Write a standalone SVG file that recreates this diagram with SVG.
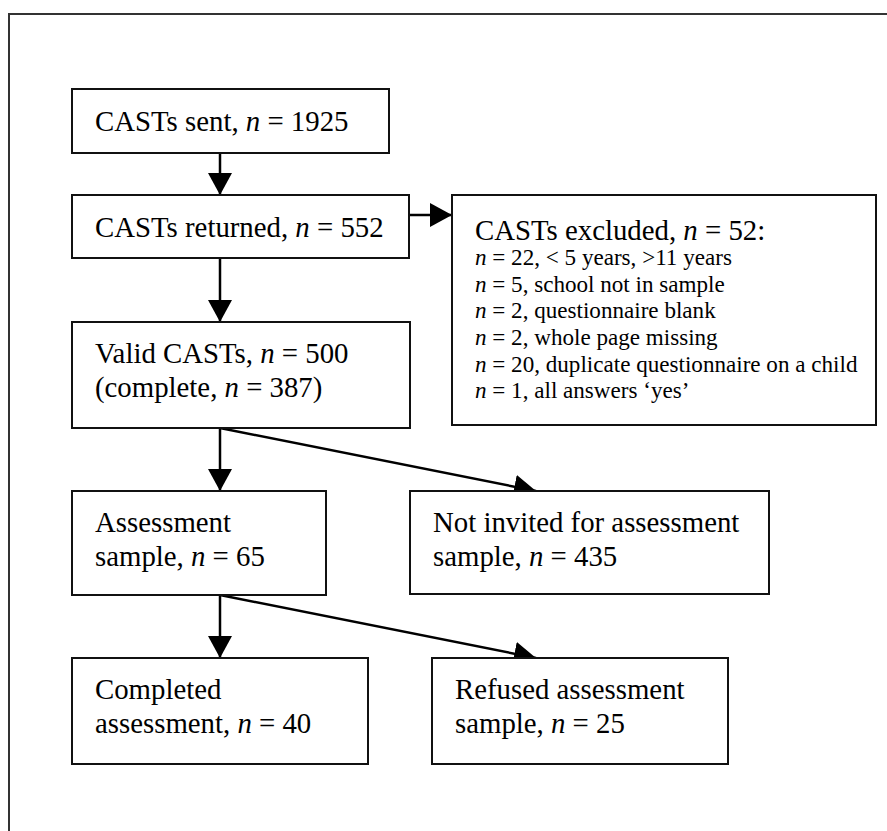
<svg xmlns="http://www.w3.org/2000/svg" width="887" height="831" viewBox="0 0 887 831">
<style>
.box{fill:#fff;stroke:#111;stroke-width:2}
.t{font-family:"Liberation Serif","Times New Roman",serif;font-size:28.8px;fill:#000}
.s{font-family:"Liberation Serif","Times New Roman",serif;font-size:23.1px;fill:#000}
.i{font-style:italic}
.c{stroke:#000;stroke-width:2.5;fill:none;marker-end:url(#ah)}
</style>
<defs>
<marker id="ah" markerUnits="userSpaceOnUse" markerWidth="22" markerHeight="24" viewBox="0 0 22 24" refX="22" refY="12" orient="auto">
<path d="M0,0 L22,12 L0,24 Z" fill="#000"/>
</marker>
</defs>
<rect x="0" y="0" width="887" height="831" fill="#fff"/>
<rect x="9" y="14" width="900" height="900" fill="none" stroke="#333" stroke-width="2"/>
<g id="connectors">
<line class="c" x1="220" y1="153" x2="220" y2="195"/>
<line class="c" x1="409" y1="215" x2="452" y2="215"/>
<line class="c" x1="220" y1="258" x2="220" y2="322"/>
<line class="c" x1="220" y1="428" x2="220" y2="491"/>
<line class="c" x1="220" y1="428" x2="536" y2="491"/>
<line class="c" x1="220" y1="595" x2="220" y2="658"/>
<line class="c" x1="220" y1="595" x2="536" y2="658"/>
</g>
<g id="sent">
<rect class="box" x="72" y="89" width="317" height="64"/>
<text class="t" x="95" y="131">CASTs sent, <tspan class="i">n</tspan> = 1925</text>
</g>
<g id="returned">
<rect class="box" x="72" y="195" width="337" height="63"/>
<text class="t" x="95" y="237">CASTs returned, <tspan class="i">n</tspan> = 552</text>
</g>
<g id="excluded">
<rect class="box" x="452" y="195" width="424" height="230"/>
<text class="t" x="475" y="240">CASTs excluded, <tspan class="i">n</tspan> = 52:</text>
<text class="s" x="475" y="265"><tspan class="i">n</tspan> = 22, &lt; 5 years, &gt;11 years</text>
<text class="s" x="475" y="292"><tspan class="i">n</tspan> = 5, school not in sample</text>
<text class="s" x="475" y="318"><tspan class="i">n</tspan> = 2, questionnaire blank</text>
<text class="s" x="475" y="345"><tspan class="i">n</tspan> = 2, whole page missing</text>
<text class="s" x="475" y="372"><tspan class="i">n</tspan> = 20, duplicate questionnaire on a child</text>
<text class="s" x="475" y="398"><tspan class="i">n</tspan> = 1, all answers ‘yes’</text>
</g>
<g id="valid">
<rect class="box" x="72" y="322" width="338" height="106"/>
<text class="t" x="95" y="363">Valid CASTs, <tspan class="i">n</tspan> = 500</text>
<text class="t" x="95" y="397">(complete, <tspan class="i">n</tspan> = 387)</text>
</g>
<g id="assessment">
<rect class="box" x="72" y="491" width="254" height="104"/>
<text class="t" x="95" y="532">Assessment</text>
<text class="t" x="95" y="566">sample, <tspan class="i">n</tspan> = 65</text>
</g>
<g id="notinvited">
<rect class="box" x="410" y="491" width="359" height="103"/>
<text class="t" x="433" y="532">Not invited for assessment</text>
<text class="t" x="433" y="566">sample, <tspan class="i">n</tspan> = 435</text>
</g>
<g id="completed">
<rect class="box" x="72" y="658" width="296" height="106"/>
<text class="t" x="95" y="699">Completed</text>
<text class="t" x="95" y="733">assessment, <tspan class="i">n</tspan> = 40</text>
</g>
<g id="refused">
<rect class="box" x="432" y="658" width="296" height="106"/>
<text class="t" x="455" y="699">Refused assessment</text>
<text class="t" x="455" y="733">sample, <tspan class="i">n</tspan> = 25</text>
</g>
</svg>
